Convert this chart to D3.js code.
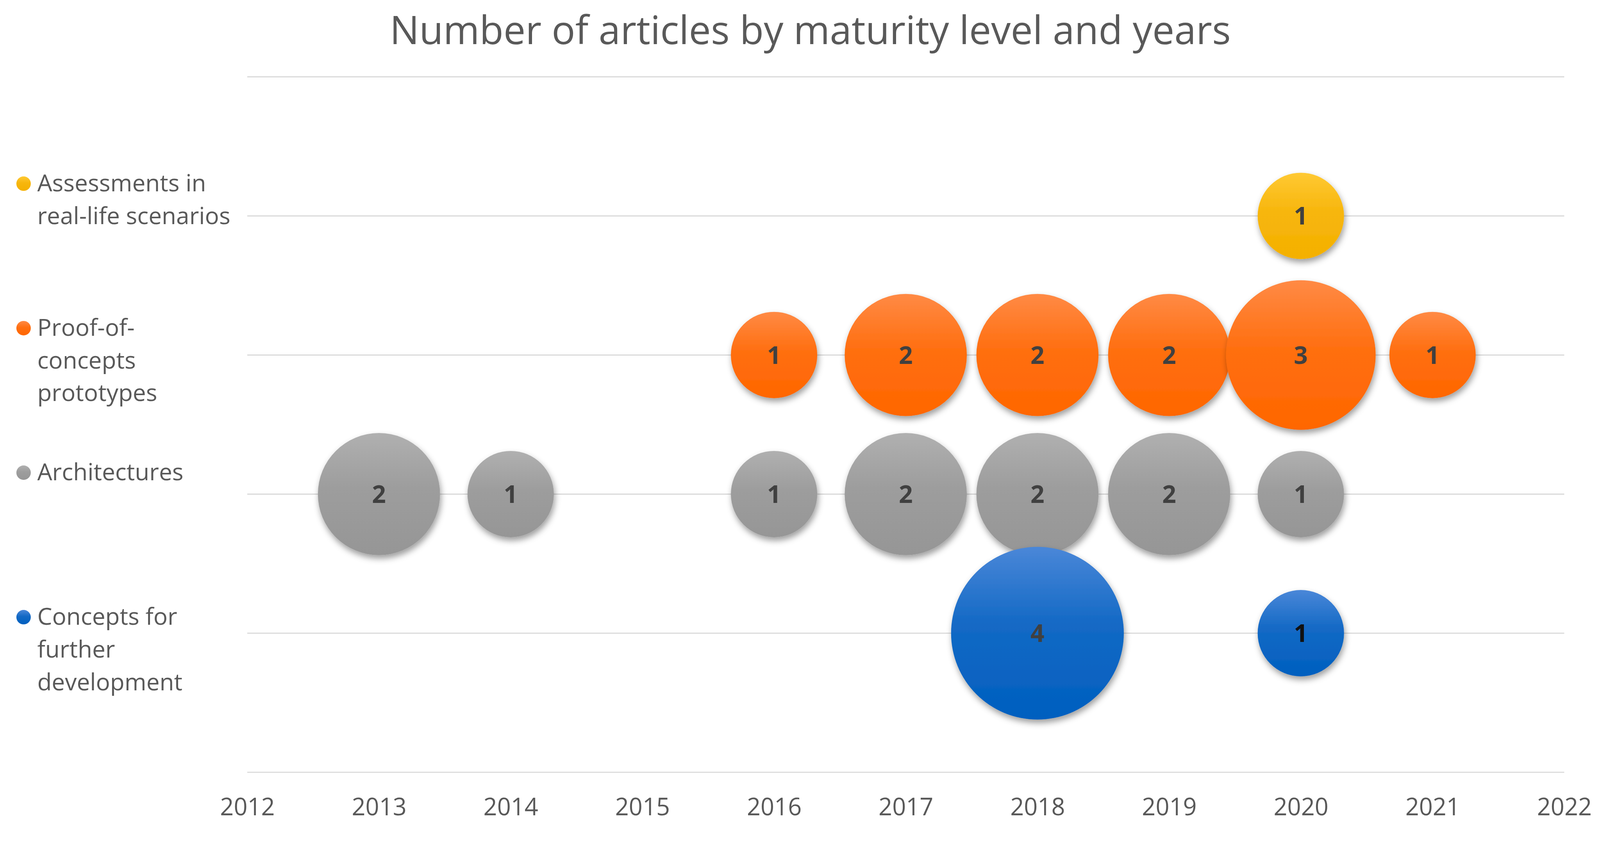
<!DOCTYPE html>
<html>
<head>
<meta charset="utf-8">
<script src="https://cdn.jsdelivr.net/npm/d3@7"></script>
<style>
  html, body { margin: 0; padding: 0; background: #fff; overflow: hidden; }
  svg { display: block; width: 100vw; height: 100vh; }
</style>
</head>
<body>
<svg id="chart" viewBox="0 0 4206 2182" preserveAspectRatio="xMidYMin meet"></svg>
<script>
// maturity levels, top to bottom (y value of each row)
var levels = ["Assessments in real-life scenarios", "Proof-of-concepts prototypes", "Architectures", "Concepts for further development"];
var levelValue = [4, 3, 2, 1];
// legend text, wrapped as in the picture
var legendLines = [
  ["Assessments in", "real-life scenarios"],
  ["Proof-of-", "concepts", "prototypes"],
  ["Architectures"],
  ["Concepts for", "further", "development"]
];

// years and article counts for each level
var assessYears = [2020];
var assessCounts = [1];
var proofYears = [2016, 2017, 2018, 2019, 2020, 2021];
var proofCounts = [1, 2, 2, 2, 3, 1];
var archYears = [2013, 2014, 2016, 2017, 2018, 2019, 2020];
var archCounts = [2, 1, 1, 2, 2, 2, 1];
var conceptYears = [2018, 2020];
var conceptCounts = [4, 1];

var xTicks = [2012, 2013, 2014, 2015, 2016, 2017, 2018, 2019, 2020, 2021, 2022];
var yTicks = [0, 1, 2, 3, 4, 5];

// colours: [top of gradient, bottom of gradient]
var seriesColors = [
  ["#ffc933", "#f4b000"],
  ["#ff8a45", "#ff6600"],
  ["#b0b0b0", "#969696"],
  ["#4a87d8", "#005fbf"]
];

var svg = d3.select("#chart");
var textColor = "#595959";

var x = d3.scaleLinear().domain([2012, 2022]).range([650, 4112]);
var y = d3.scaleLinear().domain([0, 5]).range([2031, 202]);
var r = d3.scaleSqrt().domain([0, 4]).range([0, 227]);

var defs = svg.append("defs");

var shadow = defs.append("filter")
  .attr("id", "shadow")
  .attr("x", "-30%").attr("y", "-30%")
  .attr("width", "160%").attr("height", "160%");
shadow.append("feDropShadow")
  .attr("dx", 3).attr("dy", 9)
  .attr("stdDeviation", 8)
  .attr("flood-color", "#000")
  .attr("flood-opacity", 0.38);

seriesColors.forEach(function (c, i) {
  var g = defs.append("linearGradient")
    .attr("id", "grad" + i)
    .attr("x1", 0).attr("y1", 0).attr("x2", 0).attr("y2", 1);
  g.append("stop").attr("offset", "0%").attr("stop-color", c[0]);
  g.append("stop").attr("offset", "45%").attr("stop-color", d3.interpolateRgb(c[0], c[1])(0.75));
  g.append("stop").attr("offset", "100%").attr("stop-color", c[1]);
});

// title
svg.append("text")
  .attr("x", 2130)
  .attr("y", 116)
  .attr("text-anchor", "middle")
  .attr("font-family", "Open Sans")
  .attr("font-size", 103)
  .attr("fill", textColor)
  .text("Number of articles by maturity level and years");

// horizontal gridlines
svg.append("g")
  .selectAll("line")
  .data(yTicks)
  .join("line")
  .attr("x1", x.range()[0])
  .attr("x2", x.range()[1])
  .attr("y1", function (d) { return y(d); })
  .attr("y2", function (d) { return y(d); })
  .attr("stroke", "#d9d9d9")
  .attr("stroke-width", 3);

// x axis labels
var xAxis = d3.axisBottom(x)
  .tickValues(xTicks)
  .tickFormat(d3.format("d"))
  .tickSize(0)
  .tickPadding(68);

var xg = svg.append("g")
  .attr("transform", "translate(0," + y(0) + ")")
  .call(xAxis);
xg.select(".domain").remove();
xg.selectAll("text")
  .attr("font-family", "Open Sans")
  .attr("font-size", 63)
  .attr("fill", textColor);

// bubbles
var series = [
  { years: assessYears, counts: assessCounts },
  { years: proofYears, counts: proofCounts },
  { years: archYears, counts: archCounts },
  { years: conceptYears, counts: conceptCounts }
];

series.forEach(function (s, i) {
  var pts = s.years.map(function (yr, j) {
    return { year: yr, count: s.counts[j], level: levelValue[i] };
  });
  var g = svg.append("g").attr("class", "series" + i);

  g.selectAll("circle")
    .data(pts)
    .join("circle")
    .attr("cx", function (d) { return x(d.year); })
    .attr("cy", function (d) { return y(d.level); })
    .attr("r", function (d) { return r(d.count); })
    .attr("fill", "url(#grad" + i + ")")
    .attr("filter", "url(#shadow)");

  g.selectAll("text")
    .data(pts)
    .join("text")
    .attr("x", function (d) { return x(d.year); })
    .attr("y", function (d) { return y(d.level); })
    .attr("dy", "0.36em")
    .attr("text-anchor", "middle")
    .attr("font-family", "Open Sans")
    .attr("font-weight", 700)
    .attr("font-size", 64)
    .attr("fill", function (d) { return (i === 3 && d.count === 1) ? "#111" : "#404040"; })
    .text(function (d) { return d.count; });
});

// legend on the left
var legend = svg.append("g");
legendLines.forEach(function (lines, i) {
  var cy = 483 + i * 380;
  legend.append("circle")
    .attr("cx", 62)
    .attr("cy", cy)
    .attr("r", 19)
    .attr("fill", "url(#grad" + i + ")");
  var t = legend.append("text")
    .attr("font-family", "Open Sans")
    .attr("font-size", 62)
    .attr("fill", textColor);
  lines.forEach(function (line, k) {
    t.append("tspan")
      .attr("x", 98)
      .attr("y", cy + 20 + k * 86)
      .text(line);
  });
});
</script>
</body>
</html>
